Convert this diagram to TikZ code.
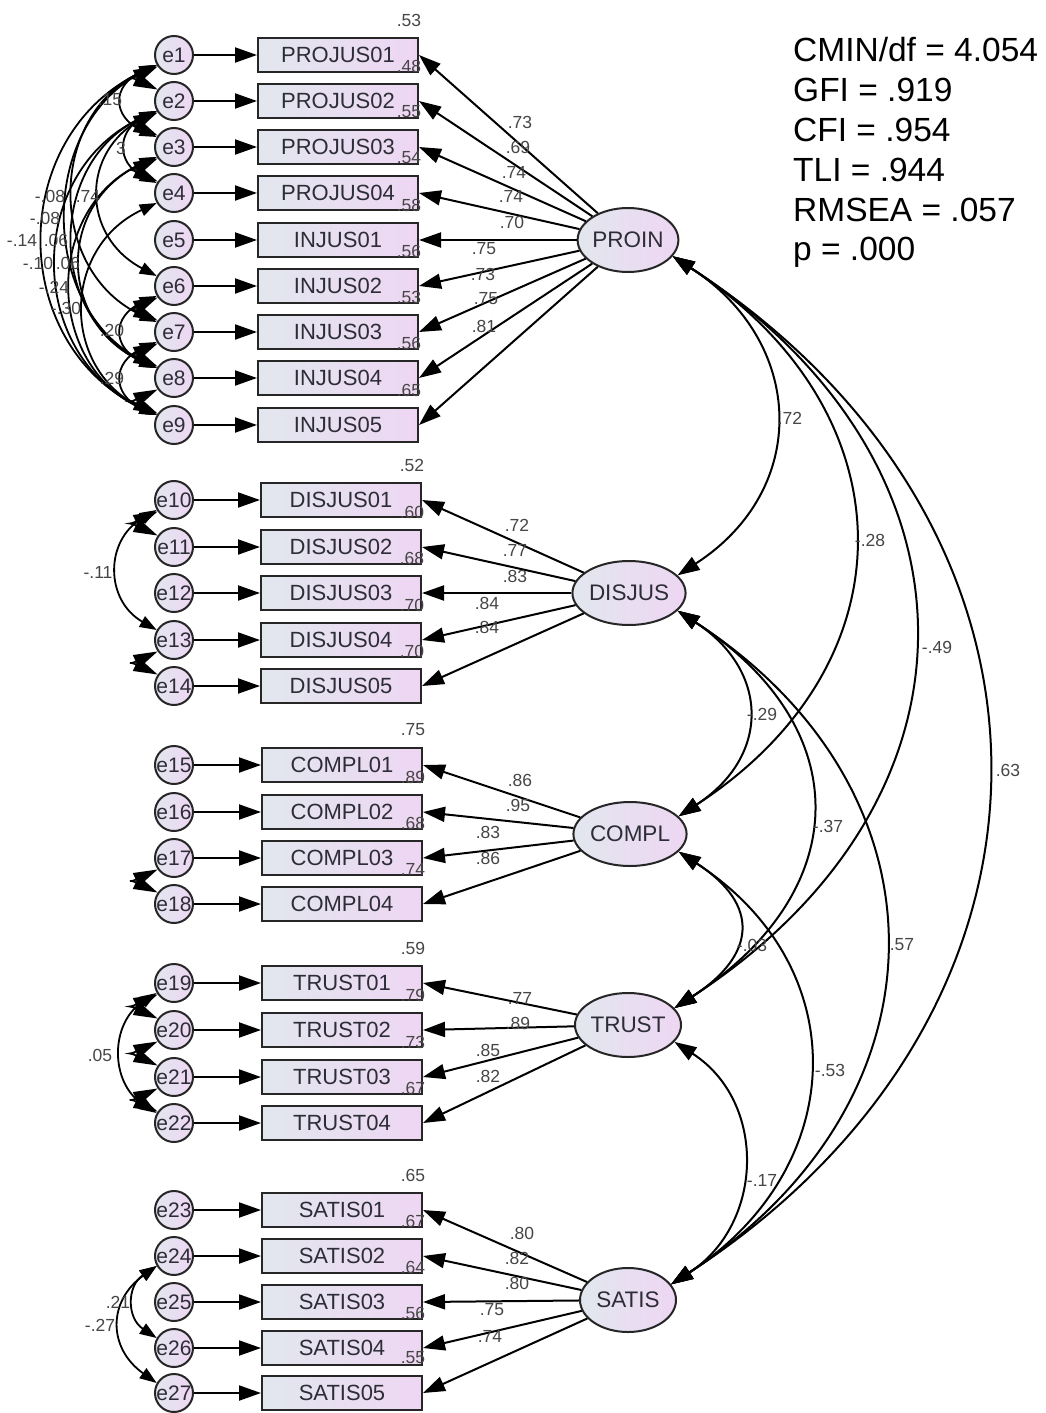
\documentclass[tikz,border=0pt]{standalone}
\usepackage{fontspec}
\setmainfont{Liberation Sans}
\usetikzlibrary{arrows.meta,shapes.geometric,calc}
\definecolor{gl}{RGB}{226,231,238}
\definecolor{gr}{RGB}{238,214,243}
\definecolor{tx}{RGB}{45,45,55}
\definecolor{nm}{RGB}{70,70,70}
\begin{document}
\begin{tikzpicture}[x=1pt,y=-1pt,
 obs/.style={draw=black!85, line width=2pt, left color=gl, right color=gr, minimum width=160pt, minimum height=34pt, inner sep=0pt, font=\fontsize{22}{22}\selectfont, text=tx},
 err/.style={circle, draw=black!85, line width=2pt, left color=gl, right color=gr, minimum size=38pt, inner sep=0pt, font=\fontsize{21}{21}\selectfont, text=tx},
 lat/.style={ellipse, draw=black!85, line width=2pt, left color=gl, right color=gr, minimum width=96pt, minimum height=64pt, inner sep=0pt, font=\fontsize{22.5}{22.5}\selectfont, text=tx},
 num/.style={font=\fontsize{17.5}{17.5}\selectfont, text=nm, inner sep=0pt},
 fitstat/.style={font=\fontsize{33.5}{33.5}\selectfont, anchor=west, inner sep=0pt},
 arr/.style={line width=2pt, -{Triangle[length=22pt,width=15pt]}},
 cov/.style={line width=2pt, {Triangle[length=22pt,width=15pt]}-{Triangle[length=22pt,width=15pt]}},
 ecov/.style={line width=1.8pt, {Triangle[length=17pt,width=12pt]}-{Triangle[length=17pt,width=12pt]}},
 tinycov/.style={line width=1.8pt, {Triangle[length=24pt,width=14pt]}-{Triangle[length=24pt,width=14pt]}}]
\useasboundingbox[fill=white] (0,0) rectangle (1046,1413);

% latent factors
\node[lat] (PROIN) at (628,240) {PROIN};
\node[lat] (DISJUS) at (629,593) {DISJUS};
\node[lat] (COMPL) at (630,834) {COMPL};
\node[lat] (TRUST) at (628,1025) {TRUST};
\node[lat] (SATIS) at (628,1300) {SATIS};

% indicators and errors
\foreach \i/\t/\x/\y in {1/PROJUS01/338/55, 2/PROJUS02/338/101, 3/PROJUS03/338/147, 4/PROJUS04/338/193, 5/INJUS01/338/240, 6/INJUS02/338/286, 7/INJUS03/338/332, 8/INJUS04/338/378, 9/INJUS05/338/425,
 10/DISJUS01/341/500, 11/DISJUS02/341/547, 12/DISJUS03/341/593, 13/DISJUS04/341/640, 14/DISJUS05/341/686,
 15/COMPL01/342/765, 16/COMPL02/342/812, 17/COMPL03/342/858, 18/COMPL04/342/904,
 19/TRUST01/342/983, 20/TRUST02/342/1030, 21/TRUST03/342/1077, 22/TRUST04/342/1123,
 23/SATIS01/342/1210, 24/SATIS02/342/1256, 25/SATIS03/342/1302, 26/SATIS04/342/1348, 27/SATIS05/342/1393}
{
 \node[obs] (b\i) at (\x,\y) {\t};
 \node[err] (e\i) at (174,\y) {e\i};
 \draw[arr] (e\i) -- (b\i);
}

% loadings
\foreach \i in {1,...,9} \draw[arr] (PROIN) -- (b\i.east);
\foreach \i in {10,...,14} \draw[arr] (DISJUS) -- (b\i.east);
\foreach \i in {15,...,18} \draw[arr] (COMPL) -- (b\i.east);
\foreach \i in {19,...,22} \draw[arr] (TRUST) -- (b\i.east);
\foreach \i in {23,...,27} \draw[arr] (SATIS) -- (b\i.east);

% R squared and loading labels
\foreach \i/\rs/\ld/\lx/\ly in {1/.53/.73/520/122, 2/.48/.69/518/147, 3/.55/.74/514/172, 4/.54/.74/511/196, 5/.58/.70/512/222, 6/.56/.75/484/249, 7/.53/.73/483/274, 8/.56/.75/486/299, 9/.65/.81/484/326,
 10/.52/.72/517/525, 11/.60/.77/515/550, 12/.68/.83/515/576, 13/.70/.84/487/603, 14/.70/.84/487/627,
 15/.75/.86/520/780, 16/.89/.95/518/805, 17/.68/.83/488/832, 18/.74/.86/488/858,
 19/.59/.77/520/998, 20/.79/.89/518/1023, 21/.73/.85/488/1050, 22/.67/.82/488/1076,
 23/.65/.80/522/1233, 24/.67/.82/517/1258, 25/.64/.80/517/1283, 26/.56/.75/492/1310, 27/.55/.74/490/1336}
{
 \node[num] (r\i) at ($(b\i.north east)+(-10,-17)$) {\rs};
 \node[num] (l\i) at (\lx,\ly) {\ld};
}

% factor covariances
\draw[cov] (PROIN.-20) .. controls +(133,86) and +(133,-86) .. (DISJUS.20);
\draw[cov] (PROIN.-20) .. controls +(237,154) and +(237,-154) .. (COMPL.20);
\draw[cov] (PROIN.-20) .. controls +(320,208) and +(320,-208) .. (TRUST.20);
\draw[cov] (PROIN.-20) .. controls +(420,273) and +(420,-273) .. (SATIS.20);
\draw[cov] (DISJUS.-20) .. controls +(92,60) and +(92,-60) .. (COMPL.20);
\draw[cov] (DISJUS.-20) .. controls +(180,117) and +(180,-117) .. (TRUST.20);
\draw[cov] (DISJUS.-20) .. controls +(280,182) and +(280,-182) .. (SATIS.20);
\draw[cov] (COMPL.-20) .. controls +(82,53) and +(82,-53) .. (TRUST.20);
\draw[cov] (COMPL.-20) .. controls +(178,116) and +(178,-116) .. (SATIS.20);
\draw[cov] (TRUST.-20) .. controls +(93,60) and +(93,-60) .. (SATIS.20);

\foreach \n/\v/\x/\y in {c1/.72/790/418, c2/-.28/870/540, c3/-.49/937/647, c4/.63/1008/770, c5/-.29/762/714, c6/-.37/828/826, c7/.57/902/945, c8/-.03/752/945, c9/-.53/830/1070, c10/-.17/762/1180}
 \node[num] (\n) at (\x,\y) {\v};

% error covariances
\foreach \a/\b in {1/2,2/3,3/4,6/7,7/8,8/9,10/11,13/14,17/18,19/20,20/21,21/22}
 \draw[tinycov] (e\a.215) .. controls +(-30,14) and +(-30,-14) .. (e\b.145);
\foreach \a/\b/\d/\h in {1/3/45/20, 2/4/40/20, 6/8/45/20, 7/9/45/20, 1/8/119/60, 1/9/150/70, 2/9/132/60, 1/7/110/50, 2/8/110/50, 3/9/113/50, 3/8/100/45, 4/9/96/45, 2/6/76/40, 10/13/52/30, 19/22/47/30, 24/26/30/20, 24/27/49/35}
 \draw[ecov] (e\a.210) .. controls +(-\d,\h) and +(-\d,-\h) .. (e\b.150);

\foreach \n/\v/\x/\y in {d1/.15/110/100, d2/3/121/148, d3/-.08/50/196, d4/.74/88/196, d5/-.08/45/218, d6/-.14/22/240, d7/.06/56/240, d8/-.10/38/263, d9/.06/68/263, d10/-.24/54/287, d11/-.30/66/308, d12/.20/112/330, d13/.29/112/378, d14/-.11/98/572, d15/.05/100/1055, d16/.21/118/1302, d17/-.27/100/1325}
 \node[num] (\n) at (\x,\y) {\v};

% fit statistics
\node[fitstat] (f1) at (793,50) {CMIN/df = 4.054};
\node[fitstat] (f2) at (793,90) {GFI = .919};
\node[fitstat] (f3) at (793,130) {CFI = .954};
\node[fitstat] (f4) at (793,170) {TLI = .944};
\node[fitstat] (f5) at (793,210) {RMSEA = .057};
\node[fitstat] (f6) at (793,252) {p = .000};
\end{tikzpicture}
\end{document}
